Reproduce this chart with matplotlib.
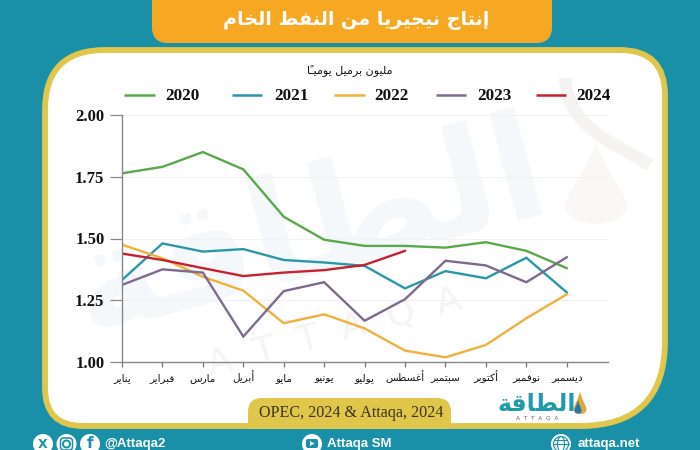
import matplotlib
matplotlib.use("Agg")
import matplotlib.pyplot as plt
from matplotlib.patches import FancyBboxPatch, Circle, Ellipse, PathPatch, Polygon
from matplotlib.path import Path

# Values (million barrels per day)
months = ["يناير", "فبراير", "مارس", "أبريل", "مايو", "يونيو", "يوليو", "أغسطس", "سبتمبر", "أكتوبر", "نوفمبر", "ديسمبر"]
y2020 = [1.764, 1.79, 1.85, 1.78, 1.588, 1.495, 1.47, 1.47, 1.463, 1.485, 1.45, 1.38]
y2021 = [1.332, 1.48, 1.447, 1.457, 1.413, 1.403, 1.389, 1.298, 1.368, 1.339, 1.422, 1.282]
y2022 = [1.475, 1.42, 1.345, 1.289, 1.157, 1.193, 1.136, 1.046, 1.019, 1.069, 1.177, 1.274]
y2023 = [1.312, 1.375, 1.362, 1.103, 1.287, 1.323, 1.167, 1.254, 1.41, 1.391, 1.323, 1.424]
y2024 = [1.439, 1.413, 1.38, 1.348, 1.362, 1.372, 1.393, 1.45]
years = ["2020", "2021", "2022", "2023", "2024"]
yticks = [1.00, 1.25, 1.50, 1.75, 2.00]

title = "إنتاج نيجيريا من النفط الخام"
unit = "مليون برميل يوميًا"
source = "OPEC, 2024 & Attaqa, 2024"
logo = "الطاقة"

TEAL = "#1a90a8"
YELLOW = "#e0c64a"
ORANGE = "#f7a823"
colors = ["#5aa84c", "#2a97a8", "#efb03c", "#7d6a8c", "#c8202f"]

# matplotlib does no Arabic shaping, so map letters to presentation forms by hand
# letter: isolated, final, initial, medial
FORMS = {
    "ا": "\ufe8d\ufe8e", "أ": "\ufe83\ufe84", "إ": "\ufe87\ufe88", "د": "\ufea9\ufeaa", "ر": "\ufead\ufeae",
    "ز": "\ufeaf\ufeb0", "و": "\ufeed\ufeee", "ة": "\ufe93\ufe94",
    "ب": "\ufe8f\ufe90\ufe91\ufe92", "ت": "\ufe95\ufe96\ufe97\ufe98", "ج": "\ufe9d\ufe9e\ufe9f\ufea0",
    "خ": "\ufea5\ufea6\ufea7\ufea8", "س": "\ufeb1\ufeb2\ufeb3\ufeb4", "ط": "\ufec1\ufec2\ufec3\ufec4",
    "غ": "\ufecd\ufece\ufecf\ufed0", "ف": "\ufed1\ufed2\ufed3\ufed4", "ق": "\ufed5\ufed6\ufed7\ufed8",
    "ك": "\ufed9\ufeda\ufedb\ufedc", "ل": "\ufedd\ufede\ufedf\ufee0", "م": "\ufee1\ufee2\ufee3\ufee4",
    "ن": "\ufee5\ufee6\ufee7\ufee8", "ي": "\ufef1\ufef2\ufef3\ufef4",
}
LAM_ALEF = {"ا": "\ufefb\ufefc", "أ": "\ufef7\ufef8", "إ": "\ufef9\ufefa"}
MARK = "\u064b"


def shape(text):
    """Join Arabic letters and flip to visual order."""
    words = []
    for word in text.split(" "):
        letters = list(word)
        out = []
        i = 0
        joined = False  # previous letter connects forward
        while i < len(letters):
            c = letters[i]
            if c == MARK:
                out.append("\ufe71")  # tanwin on a short tatweel
                i += 1
                continue
            if c == "ل" and i + 1 < len(letters) and letters[i + 1] in LAM_ALEF:
                out.append(LAM_ALEF[letters[i + 1]][1 if joined else 0])
                joined = False
                i += 2
                continue
            f = FORMS[c]
            forward = len(f) == 4 and i + 1 < len(letters)
            if joined and forward:
                out.append(f[3])
            elif joined:
                out.append(f[1])
            elif forward:
                out.append(f[2])
            else:
                out.append(f[0])
            joined = forward
            i += 1
        words.append("".join(reversed(out)))
    return " ".join(reversed(words))


def drop(ax, cx, cy, w, h, color):
    # teardrop with the tip on top
    verts = [(cx, cy - h * 0.6), (cx + w * 0.2, cy - h * 0.15), (cx + w * 0.5, cy + h * 0.05), (cx + w * 0.5, cy + h * 0.2),
             (cx + w * 0.5, cy + h * 0.33), (cx + w * 0.28, cy + h * 0.42), (cx, cy + h * 0.42),
             (cx - w * 0.28, cy + h * 0.42), (cx - w * 0.5, cy + h * 0.33), (cx - w * 0.5, cy + h * 0.2),
             (cx - w * 0.5, cy + h * 0.05), (cx - w * 0.2, cy - h * 0.15), (cx, cy - h * 0.6)]
    codes = [Path.MOVETO] + [Path.CURVE4] * 12
    ax.add_patch(PathPatch(Path(verts, codes), fc=color, ec="none"))


def round_panel(x0, y0, x1, y1, tl, tr, br, bl):
    # rectangle with its own radius per corner
    verts = [(x0 + tl, y0), (x1 - tr, y0), (x1, y0), (x1, y0 + tr), (x1, y1 - br), (x1, y1), (x1 - br, y1),
             (x0 + bl, y1), (x0, y1), (x0, y1 - bl), (x0, y0 + tl), (x0, y0), (x0 + tl, y0), (x0 + tl, y0)]
    codes = [Path.MOVETO, Path.LINETO, Path.CURVE3, Path.CURVE3, Path.LINETO, Path.CURVE3, Path.CURVE3,
             Path.LINETO, Path.CURVE3, Path.CURVE3, Path.LINETO, Path.CURVE3, Path.CURVE3, Path.CLOSEPOLY]
    return Path(verts, codes)


fig = plt.figure(figsize=(7, 4.5), dpi=100, facecolor=TEAL)

# full figure layer in pixel coordinates for the frame
bg = fig.add_axes([0, 0, 1, 1])
bg.set_xlim(0, 700)
bg.set_ylim(450, 0)
bg.axis("off")

bg.add_patch(FancyBboxPatch((152, -30), 400, 73, boxstyle="round,pad=0,rounding_size=16", fc=ORANGE, ec="none"))
bg.text(356, 21, shape(title), color="white", fontsize=13.8, fontweight="bold", ha="center", va="center")

bg.add_patch(PathPatch(round_panel(45, 50, 665, 426, 60, 45, 85, 38), fc="white", ec=YELLOW, lw=4.2))

# faint watermark
bg.text(310, 232, shape(logo), color="#f5f8fb", fontsize=105, fontweight="bold", rotation=15, ha="center", va="center", rotation_mode="anchor")
bg.text(335, 332, "A  T  T  A  Q  A", color="#f4f4f4", fontsize=26, rotation=15, ha="center", va="center", rotation_mode="anchor")
swoosh = Path([(565, 78), (570, 130), (610, 140), (650, 165)], [Path.MOVETO, Path.CURVE4, Path.CURVE4, Path.CURVE4])
bg.add_patch(PathPatch(swoosh, fc="none", ec="#f6f4f2", lw=9))
drop(bg, 596, 190, 62, 80, "#f9f8f7")

# source box sits on the bottom border
bg.add_patch(FancyBboxPatch((248, 398), 203, 30, boxstyle="round,pad=0,rounding_size=14", fc=YELLOW, ec="none"))
bg.add_patch(plt.Rectangle((248, 412), 203, 17, fc=YELLOW, ec="none"))
bg.text(351, 413, source, family="Liberation Serif", fontsize=11.6, color="#3a3420", ha="center", va="center")

# logo
bg.text(537, 404, shape(logo), color="#1f9bab", fontsize=17, fontweight="bold", ha="center", va="center")
bg.text(537, 418, "A  T  T  A  Q  A", color="#666666", fontsize=4.2, ha="center", va="center")
drop(bg, 580, 405, 13, 22, "#e0a63a")
drop(bg, 578, 408, 7, 13, "#1f78b4")

# footer
bg.add_patch(Circle((43, 444), 10, fc="white", ec="none"))
bg.text(43, 444, "X", color=TEAL, fontsize=9, fontweight="bold", ha="center", va="center")
bg.add_patch(Circle((66.5, 444), 10, fc="white", ec="none"))
bg.add_patch(Circle((66.5, 444), 3.5, fc="none", ec=TEAL, lw=1.4))
bg.add_patch(FancyBboxPatch((60.5, 438), 12, 12, boxstyle="round,pad=0,rounding_size=3", fc="none", ec=TEAL, lw=1.1))
bg.add_patch(Circle((90, 444), 10, fc="white", ec="none"))
bg.text(90, 444, "f", color=TEAL, fontsize=11, fontweight="bold", ha="center", va="center")
bg.add_patch(Circle((312, 444), 10, fc="white", ec="none"))
bg.add_patch(FancyBboxPatch((306, 439), 12, 9, boxstyle="round,pad=0,rounding_size=2", fc=TEAL, ec="none"))
bg.add_patch(Polygon([(310, 441), (310, 446), (314.5, 443.5)], fc="white", ec="none"))
bg.add_patch(Circle((561, 444), 10, fc="white", ec="none"))
bg.add_patch(Circle((561, 444), 7.5, fc="none", ec=TEAL, lw=0.8))
bg.add_patch(Ellipse((561, 444), 7, 15, fc="none", ec=TEAL, lw=0.8))
bg.plot([553.5, 568.5], [444, 444], color=TEAL, lw=0.8)
bg.plot([555, 567], [439.5, 439.5], color=TEAL, lw=0.8)
bg.text(104, 444, "@Attaqa2", color="white", fontsize=9.5, fontweight="bold", ha="left", va="center", family="Liberation Sans")
bg.text(327, 444, "Attaqa SM", color="white", fontsize=9.5, fontweight="bold", ha="left", va="center", family="Liberation Sans")
bg.text(578, 444, "attaqa.net", color="white", fontsize=9.5, fontweight="bold", ha="left", va="center", family="Liberation Sans")

# chart axes: x 122-608, y 115-362 px
ax = fig.add_axes([122 / 700, 1 - 362 / 450, (608 - 122) / 700, 247 / 450])
ax.patch.set_alpha(0)
series = [y2020, y2021, y2022, y2023, y2024]
for vals, c, yr in zip(series, colors, years):
    ax.plot(range(len(vals)), vals, color=c, lw=1.7, label=yr, solid_joinstyle="miter")

ax.set_xlim(0, 12.02)
ax.set_ylim(1, 2)
ax.set_yticks(yticks)
ax.set_yticklabels([f"{v:.2f}" for v in yticks], family="Liberation Serif", fontweight="bold", fontsize=12, color="#111111")
ax.set_xticks(range(12))
ax.set_xticklabels([shape(m) for m in months], fontsize=7.5, color="#111111", va="baseline")
ax.tick_params(axis="y", length=9, width=0.9, color="#888888", pad=3.6)
ax.tick_params(axis="x", length=3.5, width=0.9, color="#777777", pad=10)
ax.grid(axis="y", color="#f1f1f1", lw=0.7)
ax.set_axisbelow(True)
for s in ["top", "right"]:
    ax.spines[s].set_visible(False)
for s in ["left", "bottom"]:
    ax.spines[s].set_color("#888888")
    ax.spines[s].set_linewidth(1.0)

# legend and unit drawn by hand so spacing follows the picture
legend_x = [(124, 155), (232, 262), (334, 365), (436, 466), (536, 566)]
legend_tx = [165, 274, 374, 477, 576]
for (x0, x1), tx, c, yr in zip(legend_x, legend_tx, colors, years):
    bg.plot([x0, x1], [95, 95], color=c, lw=1.8, solid_capstyle="butt")
    bg.text(tx, 96, yr, family="Liberation Serif", fontweight="bold", fontsize=12.3, color="#111111", ha="left", va="center")
bg.text(350, 71, shape(unit), fontsize=8, color="#111111", ha="center", va="center")

fig.savefig("out.png", dpi=100, facecolor=TEAL)
